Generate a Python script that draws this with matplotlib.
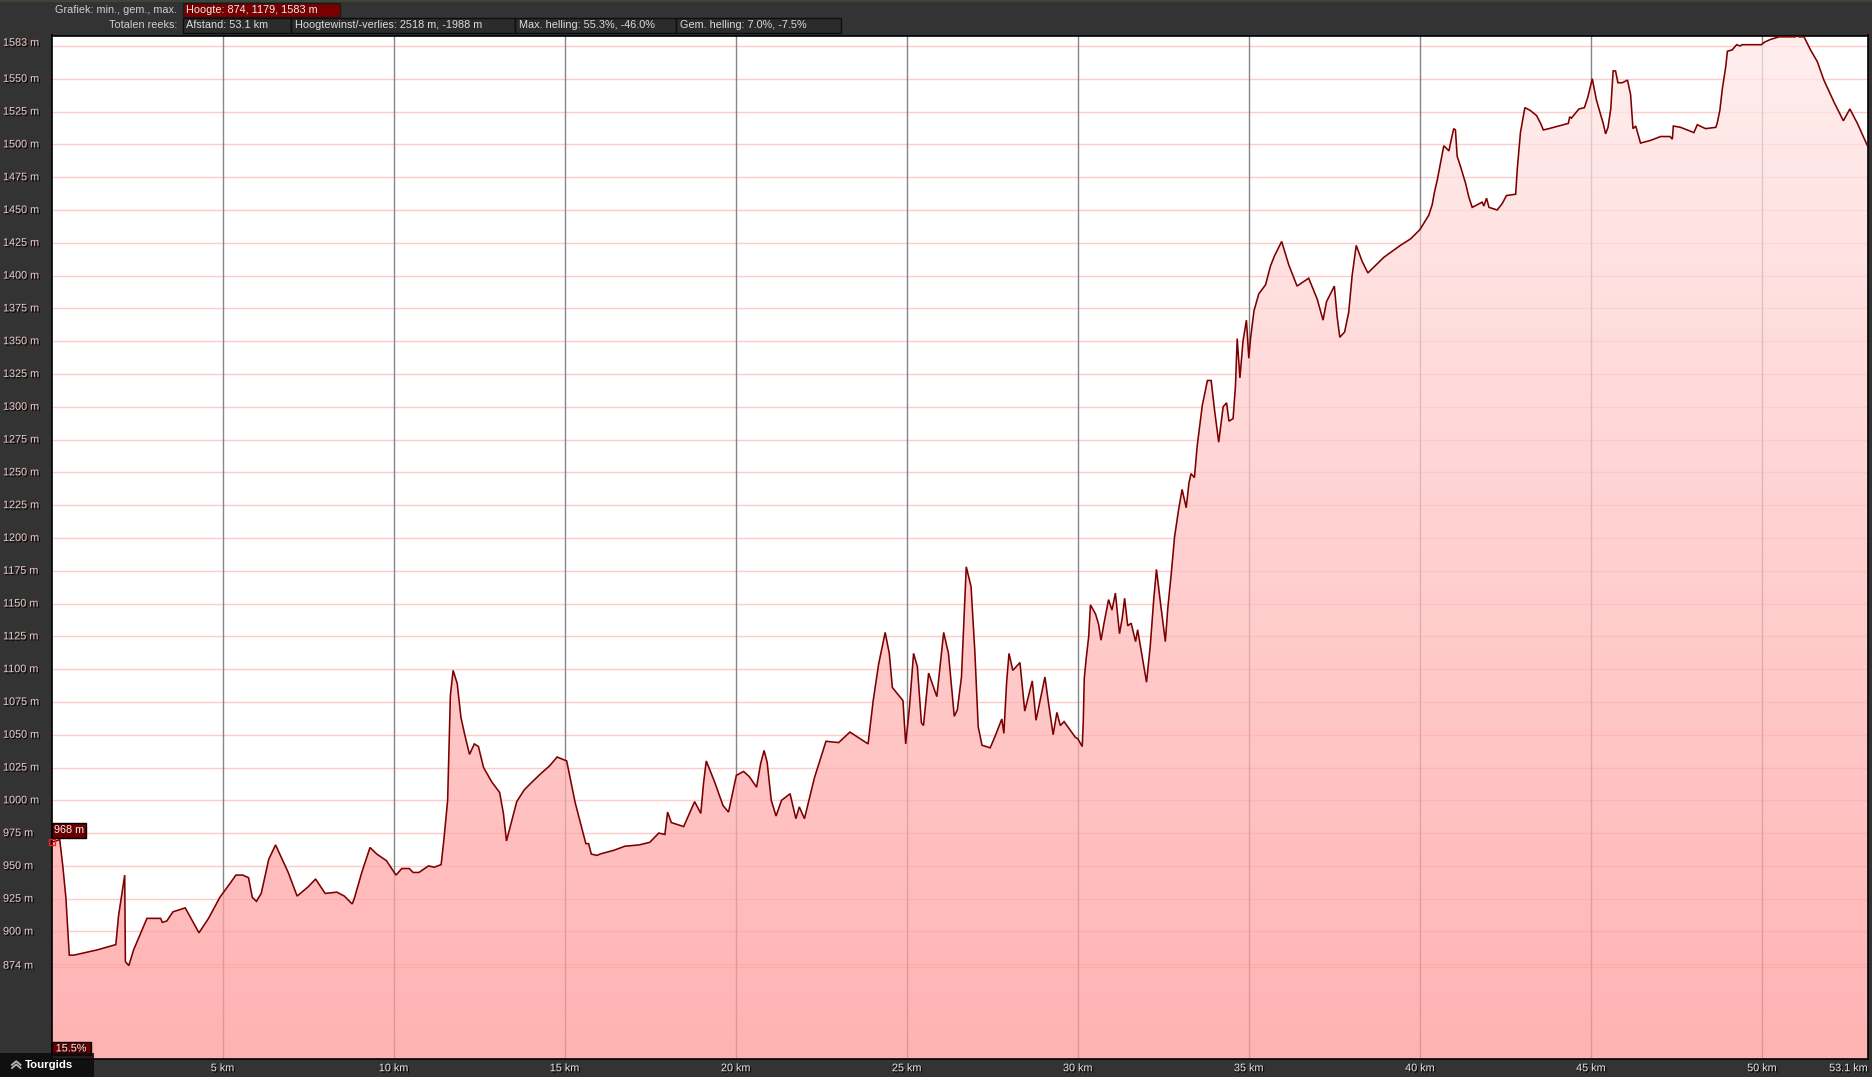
import numpy as np
import matplotlib
matplotlib.use('Agg')
import matplotlib.pyplot as plt
import matplotlib.patheffects as pe
from matplotlib.patches import Rectangle
from matplotlib.transforms import blended_transform_factory

plt.rcParams['font.family'] = ['Liberation Sans', 'DejaVu Sans']

# ---------------- data (distance km, elevation m) ----------------
km_a = [0, 0.24, 0.33, 0.42, 0.52, 0.66, 1.34, 1.88, 1.96, 2.14, 2.16, 2.26, 2.40, 2.79, 3.02,
        3.19, 3.24, 3.37, 3.55, 3.91, 4.31, 4.59, 4.92, 5.20, 5.39, 5.59, 5.76, 5.87, 5.99, 6.13,
        6.35, 6.55, 6.71, 6.92, 7.18, 7.50, 7.72, 8.00, 8.34, 8.56, 8.79, 8.85, 9.07, 9.31, 9.51,
        9.79, 10.07, 10.24, 10.46, 10.57, 10.74, 11.02, 11.19, 11.39, 11.47, 11.58, 11.66, 11.74,
        11.86, 11.97, 12.08, 12.22, 12.36, 12.48, 12.63, 12.87, 13.10, 13.21, 13.30, 13.41, 13.60,
        13.82, 14.05, 14.33, 14.55, 14.78, 15.06, 15.31, 15.62, 15.70, 15.78, 15.95]
elev_a = [968, 970, 950, 926, 882, 882, 886, 890, 912, 943, 877, 874, 886, 910, 910,
          910, 907, 908, 915, 918, 899, 910, 926, 936, 943, 943, 941, 926, 923, 929,
          955, 966, 957, 945, 927, 934, 940, 929, 930, 927, 921, 925, 945, 964, 959,
          954, 943, 948, 948, 945, 945, 950, 949, 951, 970, 1000, 1080, 1099,
          1089, 1063, 1050, 1035, 1043, 1041, 1025, 1014, 1006, 990, 969, 980, 999,
          1008, 1014, 1021, 1026, 1033, 1030, 998, 967, 967, 959, 958]

km_b = [16.03, 16.45, 16.76, 17.18, 17.49, 17.75, 17.93, 18.01, 18.12, 18.48, 18.80, 18.98, 19.06,
        19.14, 19.37, 19.63, 19.79, 20.02, 20.23, 20.40, 20.61, 20.73, 20.83, 20.92, 21.04, 21.18,
        21.34, 21.59, 21.76, 21.86, 22.01, 22.30, 22.64, 23.01, 23.34, 23.87, 24.02, 24.18, 24.37,
        24.49, 24.58, 24.89, 24.97, 25.08, 25.20, 25.31, 25.43, 25.49, 25.64, 25.88, 26.08, 26.22,
        26.39, 26.48, 26.60, 26.74, 26.88, 26.99, 27.09, 27.20, 27.44, 27.57, 27.78, 27.84, 27.92,
        27.99, 28.10, 28.31, 28.45, 28.67, 28.78, 29.04, 29.14, 29.28, 29.39, 29.49, 29.60, 29.93]
elev_b = [959, 962, 965, 966, 968, 975, 974, 991, 983, 980, 999, 990, 1013,
          1030, 1015, 996, 991, 1019, 1022, 1018, 1010, 1028, 1038, 1029, 1000, 988,
          1000, 1005, 986, 995, 986, 1017, 1045, 1044, 1052, 1043, 1076, 1104, 1128,
          1112, 1086, 1076, 1043, 1071, 1112, 1102, 1059, 1057, 1097, 1079, 1128, 1112,
          1064, 1069, 1094, 1178, 1163, 1114, 1056, 1042, 1040, 1048, 1062, 1051, 1090,
          1112, 1099, 1105, 1068, 1091, 1061, 1094, 1075, 1050, 1067, 1057, 1060, 1048]

km_c = [30.0, 30.13, 30.16, 30.19, 30.25, 30.32, 30.37, 30.52, 30.61, 30.68, 30.76, 30.84, 30.90,
        31.00, 31.10, 31.22, 31.30, 31.37, 31.46, 31.56, 31.69, 31.75, 31.88, 32.01, 32.12, 32.22,
        32.30, 32.42, 32.56, 32.63, 32.73, 32.83, 32.95, 33.05, 33.17, 33.25, 33.31, 33.41, 33.49,
        33.64, 33.79, 33.90, 34.00, 34.12, 34.25, 34.35, 34.42, 34.54, 34.61, 34.66, 34.74, 34.83,
        34.93, 35.00, 35.05, 35.15, 35.29, 35.49, 35.63, 35.75, 35.96, 36.17, 36.41, 36.75, 37.00,
        37.17, 37.27, 37.50, 37.58, 37.66, 37.80, 37.92, 38.02, 38.14, 38.31, 38.48, 38.95, 39.43]
elev_c = [1047, 1041, 1059, 1093, 1109, 1125, 1149, 1142, 1134, 1122, 1134, 1145, 1153,
          1145, 1158, 1127, 1139, 1154, 1133, 1135, 1121, 1130, 1110, 1090, 1118, 1153,
          1176, 1150, 1121, 1146, 1172, 1201, 1222, 1237, 1223, 1242, 1249, 1246, 1270,
          1301, 1320, 1320, 1297, 1273, 1300, 1303, 1289, 1291, 1316, 1352, 1322, 1350,
          1366, 1337, 1352, 1373, 1386, 1393, 1407, 1415, 1426, 1408, 1392, 1398, 1382,
          1366, 1380, 1392, 1369, 1353, 1357, 1372, 1400, 1423, 1411, 1402, 1414, 1423]

km_d = [39.73, 40.0, 40.26, 40.36, 40.43, 40.51, 40.62, 40.70, 40.85, 40.92, 40.99, 41.04, 41.09,
        41.19, 41.34, 41.43, 41.53, 41.68, 41.82, 41.87, 41.95, 42.02, 42.26, 42.41, 42.53, 42.80,
        42.85, 42.94, 43.07, 43.22, 43.41, 43.53, 43.61, 43.77, 44.06, 44.34, 44.38, 44.43, 44.65,
        44.81, 44.91, 45.04, 45.16, 45.28, 45.36, 45.43, 45.50, 45.58, 45.65, 45.72, 45.79, 45.92,
        46.07, 46.16, 46.23, 46.31, 46.45, 46.74, 47.04, 47.31, 47.38, 47.41, 47.62, 48.01, 48.11,
        48.35, 48.65, 48.69, 48.77, 48.84, 48.94, 48.99, 49.13, 49.26, 49.36, 49.42, 49.98, 50.08,
        50.25, 50.50, 50.98, 51.03, 51.08, 51.23, 51.42, 51.62, 51.81, 52.11, 52.38, 52.57, 52.79, 53.1]
elev_d = [1428, 1435, 1446, 1454, 1464, 1473, 1488, 1499, 1495, 1504, 1512, 1511, 1491,
          1483, 1470, 1460, 1452, 1454, 1456, 1453, 1459, 1452, 1450, 1455, 1461, 1462,
          1482, 1509, 1528, 1526, 1522, 1516, 1511, 1512, 1514, 1516, 1521, 1520, 1527,
          1528, 1536, 1550, 1534, 1523, 1516, 1508, 1513, 1527, 1556, 1556, 1547, 1547,
          1549, 1538, 1512, 1514, 1501, 1503, 1506, 1506, 1504, 1514, 1513, 1509, 1515,
          1512, 1513, 1516, 1526, 1542, 1559, 1571, 1572, 1576, 1575, 1576, 1576, 1578,
          1580, 1582, 1582, 1583, 1582, 1582, 1572, 1563, 1549, 1532, 1518, 1527, 1516, 1498]

x_ticks = [5, 10, 15, 20, 25, 30, 35, 40, 45, 50, 53.1]
x_labels = ['5 km', '10 km', '15 km', '20 km', '25 km', '30 km', '35 km', '40 km', '45 km', '50 km', '53.1 km']
y_grid = list(range(875, 1576, 25))
y_label_vals = [874] + list(range(900, 1551, 25)) + [1577.5]
y_labels = ['874 m'] + [f'{v} m' for v in range(900, 1551, 25)] + ['1583 m']

header_row1 = ['Grafiek: min., gem., max.', 'Hoogte: 874, 1179, 1583 m']
header_row2 = ['Totalen reeks:', 'Afstand: 53.1 km', 'Hoogtewinst/-verlies: 2518 m, -1988 m',
               'Max. helling: 55.3%, -46.0%', 'Gem. helling: 7.0%, -7.5%']
slope_label = '15.5%'

km = np.array(km_a + km_b + km_c + km_d)
elev = np.array(elev_a + elev_b + elev_c + elev_d, dtype=float)

# ---------------- figure ----------------
W, H, DPI = 1872, 1077, 100
fig = plt.figure(figsize=(W / DPI, H / DPI), dpi=DPI, facecolor='#333333')

def fx(px):
    return px / W

def fy(py):
    return 1 - py / H

ax = fig.add_axes([fx(51.5), fy(1059), fx(1868) - fx(51.5), fy(35.5) - fy(1059)])
ymin, ymax = 802.8, 1583
ax.set_xlim(0, 53.1)
ax.set_ylim(ymin, ymax)
ax.set_facecolor('white')

# grid (under semi-transparent fill)
for v in y_grid:
    ax.axhline(v, color='#ffcaca', lw=1.0, zorder=1)
ax.axhline(873.2, color='#ffcaca', lw=1.0, zorder=1)
for v in x_ticks[:-1]:
    ax.axvline(v, color='#858585', lw=1.0, zorder=1)

# gradient fill clipped to profile
poly = ax.fill_between(km, elev, ymin, facecolor='none', edgecolor='none', zorder=2)
t = np.linspace(0, 1, 256)
top_t, bot_t = 0.935, 0.70
g = ((bot_t + (top_t - bot_t) * t) - 0.25) / 0.75
grad = np.zeros((256, 1, 3))
grad[:, 0, 0] = 1.0
grad[:, 0, 1] = g
grad[:, 0, 2] = g
img = ax.imshow(grad, extent=[0, 53.1, ymin, ymax], origin='lower', aspect='auto',
                alpha=0.75, zorder=2, interpolation='bilinear')
img.set_clip_path(poly.get_paths()[0], transform=ax.transData)

ax.plot(km, elev, color='#7c0000', lw=1.15, zorder=4, solid_joinstyle='miter')
ax.plot(km[0], elev[0], marker='s', ms=5, mfc='none', mec='#ff1a1a', mew=1.0,
        clip_on=False, zorder=6, linestyle='none')

for s in ax.spines.values():
    s.set_color('black')
    s.set_linewidth(1.2)

shadow = [pe.withSimplePatchShadow(offset=(1, -1), shadow_rgbFace='black', alpha=0.9)]

ax.set_xticks(x_ticks)
ax.set_xticklabels(x_labels)
ax.set_yticks([])
ax.tick_params(axis='x', length=0, pad=3, labelsize=7.8, labelcolor='#e2e2e2')
for lab in ax.get_xticklabels():
    lab.set_path_effects(shadow)
ax.get_xticklabels()[-1].set_horizontalalignment('right')

ytr = blended_transform_factory(fig.transFigure, ax.transData)
for v, lab in zip(y_label_vals, y_labels):
    ax.text(3 / W, v, lab, transform=ytr, ha='left', va='center', fontsize=7.8,
            color='#eecaca', path_effects=shadow, clip_on=False)

ax.annotate(f'{elev[0]:.0f} m', xy=(km[0], elev[0]), xytext=(1.6, 5.0),
            textcoords='offset points', ha='left', va='bottom', fontsize=7.8,
            color='#f2f2f2', zorder=7, annotation_clip=False,
            bbox=dict(boxstyle='square,pad=0.2', fc='#6a0000', ec='black', lw=1))

# ---------------- overlay (header, buttons) ----------------
ov = fig.add_axes([0, 0, 1, 1], zorder=10)
ov.set_xlim(0, W)
ov.set_ylim(H, 0)
ov.axis('off')

ov.add_patch(Rectangle((0, 0), W, 2.2, fc='#3c4636', ec='none'))

hdr_col = '#dcdcdc'
ov.text(177, 9.8, header_row1[0], ha='right', va='center', fontsize=7.8, color='#cfcfcf')
ov.add_patch(Rectangle((182.5, 2.5), 157.5, 14.3, fc='#780000', ec='#1a1a1a', lw=1))
ov.text(186, 9.8, header_row1[1], ha='left', va='center', fontsize=7.8, color='#ececec')

ov.text(177, 25.4, header_row2[0], ha='right', va='center', fontsize=7.8, color='#cfcfcf')
bounds = [182.5, 291, 515, 676, 841]
for i in range(4):
    x0, x1 = bounds[i], bounds[i + 1]
    ov.add_patch(Rectangle((x0, 17.6), x1 - x0, 15.6, fc='#2b2b2b', ec='#0e0e0e', lw=1))
    ov.text(x0 + 4, 25.4, header_row2[i + 1], ha='left', va='center', fontsize=7.8, color=hdr_col)

# slope box bottom-left
ov.add_patch(Rectangle((51.7, 1042), 39, 12.5, fc='#6a0000', ec='black', lw=1))
ov.text(71.2, 1048.4, slope_label, ha='center', va='center', fontsize=7.8, color='#f2f2f2',
        path_effects=shadow)

# Tourgids button
ov.add_patch(Rectangle((0, 1052.7), 94, 24.3, fc='#0c0c0c', ec='none', alpha=0.88))
ov.plot([12, 16.2, 20.5], [1064.8, 1061.2, 1064.8], color='#b8b8b8', lw=1.3)
ov.plot([12, 16.2, 20.5], [1068.0, 1064.4, 1068.0], color='#b8b8b8', lw=1.3)
ov.text(25, 1065.2, 'Tourgids', ha='left', va='center', fontsize=8.2, fontweight='bold',
        color='white')

fig.savefig('out.png', dpi=DPI, facecolor=fig.get_facecolor())
